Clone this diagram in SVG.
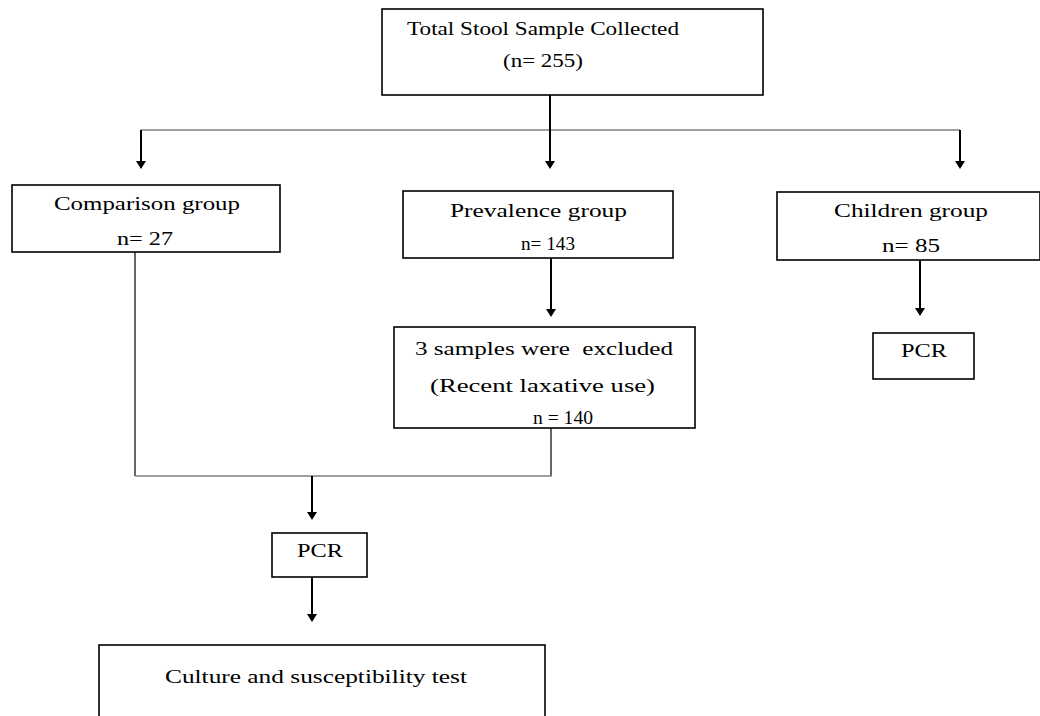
<svg xmlns="http://www.w3.org/2000/svg" width="1040" height="716" viewBox="0 0 1040 716">
<defs>
<style>
.box{fill:#fff;stroke:#000;stroke-width:1.6}
.t{font-family:"Liberation Serif","Times New Roman",serif;font-size:18px;fill:#000}
.arr{stroke:#000;stroke-width:2;fill:none}
.thin{stroke:#000;stroke-width:1.2;fill:none}
.gray{stroke:#808080;stroke-width:1.5;fill:none}
</style>
<marker id="ah" markerUnits="userSpaceOnUse" markerWidth="10" markerHeight="10" refX="0" refY="5" orient="auto">
<path d="M0,0 L8,5 L0,10 z" fill="#000"/>
</marker>
</defs>
<rect width="1040" height="716" fill="#fff"/>
<g id="connectors">
<line class="gray" x1="141" y1="130" x2="960" y2="130"/>
<line class="arr" x1="550" y1="95" x2="550" y2="161" marker-end="url(#ah)"/>
<line class="arr" x1="141" y1="130" x2="141" y2="161" marker-end="url(#ah)"/>
<line class="arr" x1="960" y1="130" x2="960" y2="161" marker-end="url(#ah)"/>
<line class="arr" x1="551" y1="258" x2="551" y2="309" marker-end="url(#ah)"/>
<line class="arr" x1="920" y1="260" x2="920" y2="308" marker-end="url(#ah)"/>
<line class="thin" x1="135" y1="252" x2="135" y2="476"/>
<line class="thin" x1="551" y1="428" x2="551" y2="476"/>
<line class="gray" x1="135" y1="476" x2="552" y2="476"/>
<line class="arr" x1="312" y1="476" x2="312" y2="512" marker-end="url(#ah)"/>
<line class="arr" x1="312" y1="577" x2="312" y2="614" marker-end="url(#ah)"/>
</g>
<g id="total">
<rect class="box" x="382" y="9" width="381" height="86"/>
<text class="t" x="407" y="35" textLength="272" lengthAdjust="spacingAndGlyphs">Total Stool Sample Collected</text>
<text class="t" x="503" y="67" textLength="80" lengthAdjust="spacingAndGlyphs">(n= 255)</text>
</g>
<g id="comparison">
<rect class="box" x="12" y="185" width="268" height="67"/>
<text class="t" x="54" y="210" textLength="186" lengthAdjust="spacingAndGlyphs">Comparison group</text>
<text class="t" x="117" y="245" textLength="56" lengthAdjust="spacingAndGlyphs">n= 27</text>
</g>
<g id="prevalence">
<rect class="box" x="403" y="191" width="270" height="67"/>
<text class="t" x="450" y="217" textLength="177" lengthAdjust="spacingAndGlyphs">Prevalence group</text>
<text class="t" x="521" y="250" textLength="54" lengthAdjust="spacingAndGlyphs">n= 143</text>
</g>
<g id="excluded">
<rect class="box" x="394" y="327" width="301" height="101"/>
<text class="t" x="415" y="355" textLength="258" lengthAdjust="spacingAndGlyphs">3 samples were&#160; excluded</text>
<text class="t" x="430" y="392" textLength="225" lengthAdjust="spacingAndGlyphs">(Recent laxative use)</text>
<text class="t" x="533" y="424" textLength="60" lengthAdjust="spacingAndGlyphs">n = 140</text>
</g>
<g id="children">
<rect class="box" x="777" y="192" width="263" height="68"/>
<text class="t" x="834" y="217" textLength="154" lengthAdjust="spacingAndGlyphs">Children group</text>
<text class="t" x="882" y="252" textLength="58" lengthAdjust="spacingAndGlyphs">n= 85</text>
</g>
<g id="pcr-children">
<rect class="box" x="873" y="333" width="101" height="46"/>
<text class="t" x="901" y="357" textLength="46" lengthAdjust="spacingAndGlyphs">PCR</text>
</g>
<g id="pcr-main">
<rect class="box" x="272" y="533" width="95" height="44"/>
<text class="t" x="297" y="557" textLength="46" lengthAdjust="spacingAndGlyphs">PCR</text>
</g>
<g id="culture">
<rect class="box" x="99" y="645" width="446" height="90"/>
<text class="t" x="165" y="683" textLength="302" lengthAdjust="spacingAndGlyphs">Culture and susceptibility test</text>
</g>
</svg>
